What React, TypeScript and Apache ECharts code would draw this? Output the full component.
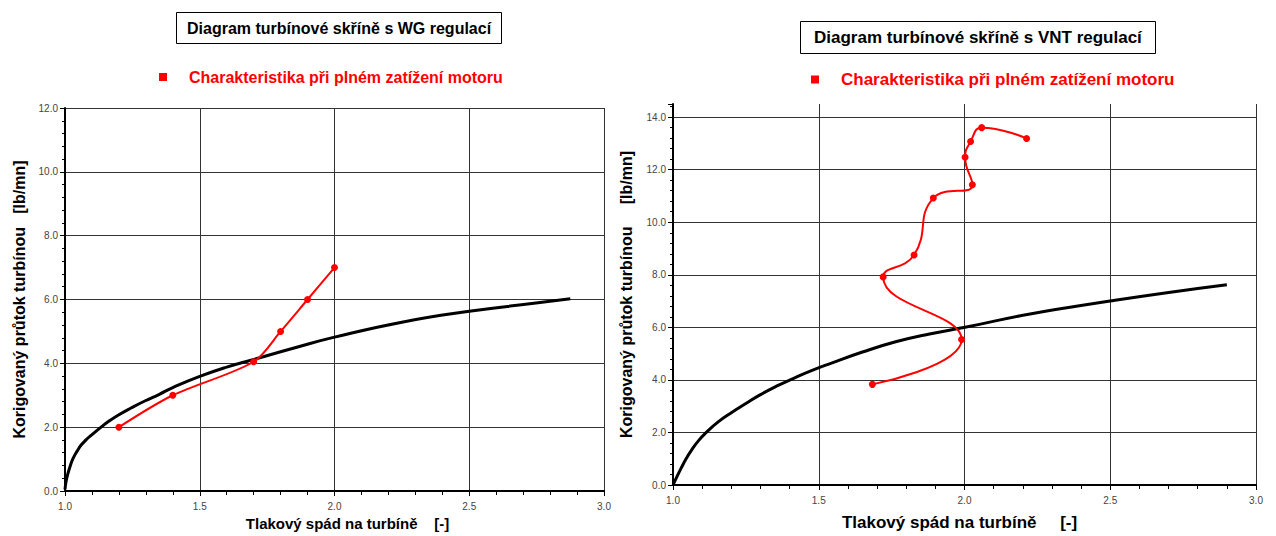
import React, { useEffect, useRef } from "react";
import * as echarts from "echarts";

// WG chart (left)
const wgPressure = [1.2, 1.4, 1.7, 1.8, 1.9, 2.0];
const wgFlow = [2.0, 3.0, 4.05, 5.0, 6.0, 7.0];
const wgTurbPressure = [
  1.0, 1.004, 1.011, 1.02, 1.03, 1.045, 1.06, 1.078, 1.098, 1.135, 1.165, 1.197, 1.245, 1.296, 1.35, 1.4,
  1.5, 1.6, 1.7, 1.85, 2.0, 2.25, 2.5, 2.74, 2.875,
];
const wgTurbFlow = [
  0.05, 0.3, 0.55, 0.8, 1.02, 1.25, 1.44, 1.6, 1.75, 2.01, 2.2, 2.375, 2.6, 2.82, 3.03, 3.24,
  3.59, 3.88, 4.12, 4.48, 4.82, 5.29, 5.63, 5.88, 6.02,
];

// VNT chart (right)
const vntPressure = [1.684, 1.99, 1.721, 1.827, 1.893, 2.027, 2.002, 2.021, 2.059, 2.213];
const vntFlow = [3.83, 5.54, 7.92, 8.75, 10.92, 11.43, 12.47, 13.07, 13.6, 13.19];
const vntTurbPressure = [
  1.0, 1.014, 1.028, 1.045, 1.063, 1.087, 1.114, 1.155, 1.2, 1.25, 1.297, 1.355, 1.412, 1.475, 1.539,
  1.65, 1.767, 1.88, 2.002, 2.225, 2.505, 2.682, 2.9,
];
const vntTurbFlow = [
  0.0, 0.33, 0.64, 1.0, 1.32, 1.68, 2.0, 2.4, 2.75, 3.1, 3.42, 3.76, 4.05, 4.35, 4.62,
  5.06, 5.46, 5.75, 6.0, 6.51, 7.01, 7.3, 7.62,
];

const titles = ["Diagram turbínové skříně s WG regulací", "Diagram turbínové skříně s VNT regulací"];
const legendName = "Charakteristika při plném zatížení motoru";
const xNames = ["Tlakový spád na turbíně    [-]", "Tlakový spád na turbíně     [-]"];
const yNames = ["Korigovaný průtok turbínou   [lb/mn]", "Korigovaný průtok turbínou     [lb/mn]"];

const FONT = "'Liberation Sans', Arial, sans-serif";

const zip = (a: number[], b: number[]) => a.map((v, i) => [v, b[i]]);

export default function App() {
  const ref = useRef<HTMLDivElement>(null);
  useEffect(() => {
    if (!ref.current) return;
    const chart = echarts.init(ref.current, null, { renderer: "svg" });

    const xAxisBase = (gridIndex: number, nameGap: number, nameSize: number, pad: number[]) => ({
      type: "value",
      gridIndex,
      min: 1,
      max: 3,
      interval: 0.5,
      name: xNames[gridIndex],
      nameLocation: "middle",
      nameGap,
      nameTextStyle: {
        fontFamily: FONT,
        fontWeight: "bold",
        fontSize: nameSize,
        color: "#000",
        padding: pad,
      },
      axisLine: { onZero: false, lineStyle: { color: "#000", width: 2 } },
      axisTick: { show: true, length: 5, lineStyle: { color: "#000", width: 1 } },
      minorTick: { show: true, splitNumber: 5, length: 4, lineStyle: { color: "#000", width: 1 } },
      axisLabel: {
        fontFamily: FONT,
        fontSize: 10,
        color: "#444",
        margin: 10,
        formatter: (v: number) => v.toFixed(1),
      },
      splitLine: { show: true, lineStyle: { color: "#333", width: 1 } },
    });

    const yAxisBase = (gridIndex: number, max: number, nameGap: number, nameSize: number) => ({
      type: "value",
      gridIndex,
      min: 0,
      max,
      interval: 2,
      name: yNames[gridIndex],
      nameLocation: "middle",
      nameGap,
      nameTextStyle: { fontFamily: FONT, fontWeight: "bold", fontSize: nameSize, color: "#000" },
      axisLine: { onZero: false, lineStyle: { color: "#000", width: 2 } },
      axisTick: { show: true, length: 5, lineStyle: { color: "#000", width: 1 } },
      minorTick: { show: true, splitNumber: 5, length: 3, lineStyle: { color: "#000", width: 1 } },
      axisLabel: {
        fontFamily: FONT,
        fontSize: 10,
        color: "#444",
        margin: 7,
        showMaxLabel: max % 2 === 0,
        formatter: (v: number) => v.toFixed(1),
      },
      splitLine: { show: true, showMaxLine: max % 2 === 0, lineStyle: { color: "#333", width: 1 } },
    });

    const titleStyle = (size: number) => ({ fontFamily: FONT, fontSize: size, fontWeight: "bold", color: "#000" });
    const legendStyle = (size: number) => ({
      fontFamily: FONT,
      fontSize: size,
      fontWeight: "bold",
      color: "#ff0000",
      padding: [0, 0, 0, 17],
    });

    chart.setOption({
      animation: false,
      backgroundColor: "#ffffff",
      title: [
        {
          text: titles[0],
          left: 176,
          top: 12,
          padding: [8, 11],
          borderColor: "#000",
          borderWidth: 1,
          textStyle: titleStyle(16),
        },
        {
          text: titles[1],
          left: 800,
          top: 21,
          padding: [8, 14],
          borderColor: "#000",
          borderWidth: 1,
          textStyle: titleStyle(17),
        },
      ],
      legend: [
        {
          data: [legendName],
          left: 154,
          top: 64,
          icon: "rect",
          itemWidth: 8,
          itemHeight: 8,
          textStyle: legendStyle(16),
          selectedMode: false,
        },
        {
          data: [legendName],
          left: 806,
          top: 66,
          icon: "rect",
          itemWidth: 8,
          itemHeight: 8,
          textStyle: legendStyle(17),
          selectedMode: false,
        },
      ],
      grid: [
        { left: 65, top: 108, width: 539, height: 383, containLabel: false },
        { left: 673, top: 104, width: 583, height: 383, containLabel: false },
      ],
      xAxis: [xAxisBase(0, 24, 15, [0, 0, 0, 26]), xAxisBase(1, 29, 17, [0, 10, 0, 0])],
      yAxis: [yAxisBase(0, 12, 38, 16), yAxisBase(1, 14.5, 39, 16)],
      series: [
        {
          name: "Charakteristika turbíny WG",
          type: "line",
          xAxisIndex: 0,
          yAxisIndex: 0,
          data: zip(wgTurbPressure, wgTurbFlow),
          smooth: 0.5,
          showSymbol: false,
          lineStyle: { color: "#000", width: 3 },
          itemStyle: { color: "#000" },
          z: 2,
        },
        {
          name: legendName,
          type: "line",
          xAxisIndex: 0,
          yAxisIndex: 0,
          data: zip(wgPressure, wgFlow),
          smooth: 0.3,
          symbol: "circle",
          symbolSize: 7,
          lineStyle: { color: "#ff0000", width: 2 },
          itemStyle: { color: "#ff0000" },
          z: 3,
        },
        {
          name: "Charakteristika turbíny VNT",
          type: "line",
          xAxisIndex: 1,
          yAxisIndex: 1,
          data: zip(vntTurbPressure, vntTurbFlow),
          smooth: 0.5,
          showSymbol: false,
          lineStyle: { color: "#000", width: 3 },
          itemStyle: { color: "#000" },
          z: 2,
        },
        {
          name: legendName,
          type: "line",
          xAxisIndex: 1,
          yAxisIndex: 1,
          data: zip(vntPressure, vntFlow),
          smooth: 0.5,
          symbol: "circle",
          symbolSize: 7,
          lineStyle: { color: "#ff0000", width: 2 },
          itemStyle: { color: "#ff0000" },
          z: 3,
        },
      ],
    });
    return () => chart.dispose();
  }, []);

  return (
    <div
      ref={ref}
      style={{ position: "absolute", left: 0, top: 0, width: 1276, height: 536, background: "#fff" }}
    />
  );
}
